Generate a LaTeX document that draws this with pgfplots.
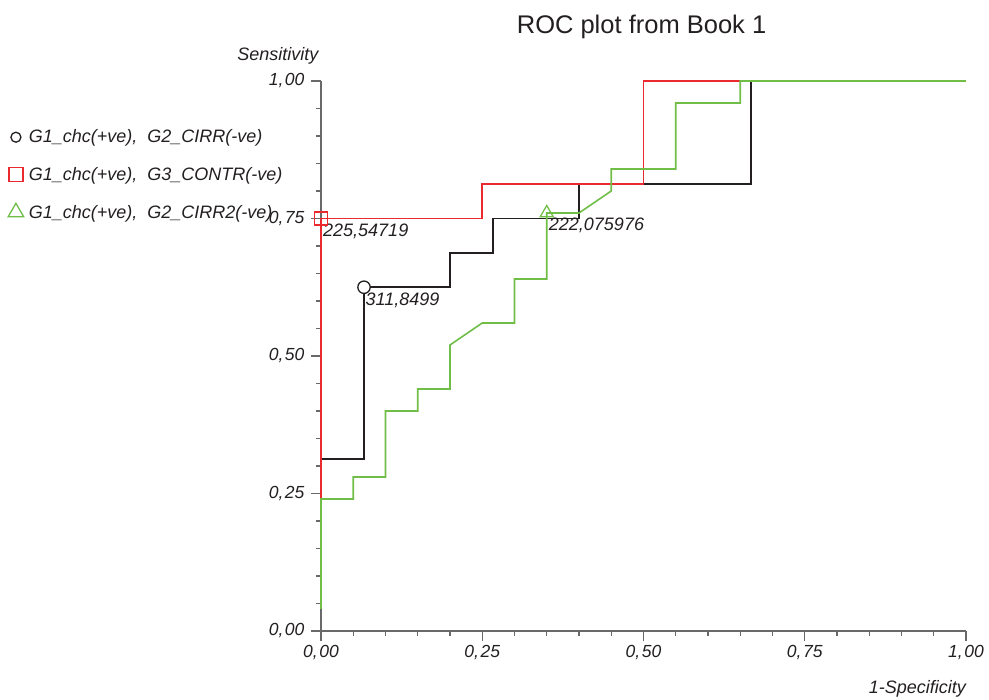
\documentclass[border=0pt]{standalone}
\usepackage{fontspec}
\setmainfont{Liberation Sans}
\usepackage{pgfplots}
\pgfplotsset{compat=1.18}

\definecolor{blk}{RGB}{35,31,32}
\definecolor{rocred}{RGB}{234,42,46}
\definecolor{rocgreen}{RGB}{112,190,72}
\definecolor{axgray}{RGB}{105,105,105}

\begin{document}
\begin{tikzpicture}
\useasboundingbox (-321pt,-69pt) rectangle (668pt,631pt);
\begin{axis}[
    scale only axis,
    width=645pt, height=550pt,
    xmin=0, xmax=1, ymin=0, ymax=1,
    axis lines*=left,
    axis line style={axgray, line width=1.1pt},
    clip=false,
    xtick={0,0.25,0.5,0.75,1},
    ytick={0,0.25,0.5,0.75,1},
    minor x tick num=4,
    minor y tick num=4,
    tick align=outside,
    major tick length=10pt,
    minor tick length=5pt,
    every tick/.style={axgray, line width=1.1pt},
    /pgf/number format/assume math mode=true,
    ticklabel style={font=\itshape\fontsize{17.5}{19}\selectfont, text=blk,
        /pgf/number format/fixed, /pgf/number format/fixed zerofill,
        /pgf/number format/precision=2, /pgf/number format/dec sep={,\kern1.5pt}},
    yticklabel style={xshift=-3pt},
    xticklabel style={yshift=-1pt},
    legend style={at={(axis description cs:-0.495,0.915)}, anchor=north west,
        draw=none, fill=none, font=\itshape\fontsize{18}{21}\selectfont,
        text=blk, row sep=19pt, inner sep=0pt},
    legend cell align=left,
    legend image code/.code={\path[draw=none, fill=none] (0pt,0pt) -- (25pt,0pt);
        \draw[#1] plot[only marks] coordinates {(14pt,0pt)};},
]
% legend images
\addlegendimage{only marks, mark=o, mark size=5pt, blk, line width=1.3pt}
\addlegendimage{only marks, mark=square, mark size=7pt, rocred, line width=1.3pt}
\addlegendimage{only marks, mark=triangle, mark size=9pt, rocgreen, line width=1.3pt}
\legend{{G1\_chc(+ve),\ \ G2\_CIRR(-ve)}, {G1\_chc(+ve),\ \ G3\_CONTR(-ve)}, {G1\_chc(+ve),\ \ G2\_CIRR2(-ve)}}

% G2_CIRR
\addplot[blk, line width=1.6pt, forget plot] coordinates {
    (0,0.0625) (0,0.3125) (0.0667,0.3125) (0.0667,0.625) (0.2,0.625)
    (0.2,0.6875) (0.2667,0.6875) (0.2667,0.75) (0.4,0.75) (0.4,0.8125)
    (0.6667,0.8125) (0.6667,1) (1,1)
};
% G3_CONTR
\addplot[rocred, line width=1.6pt, forget plot] coordinates {
    (0,0.0625) (0,0.75) (0.25,0.75) (0.25,0.8125) (0.5,0.8125) (0.5,1) (1,1)
};
% G2_CIRR2
\addplot[rocgreen, line width=1.6pt, forget plot] coordinates {
    (0,0.04) (0,0.24) (0.05,0.24) (0.05,0.28) (0.1,0.28) (0.1,0.40)
    (0.15,0.40) (0.15,0.44) (0.2,0.44) (0.2,0.52) (0.25,0.56) (0.3,0.56)
    (0.3,0.64) (0.35,0.64) (0.35,0.76) (0.4,0.76) (0.45,0.80) (0.45,0.84)
    (0.55,0.84) (0.55,0.96) (0.65,0.96) (0.65,1) (1,1)
};

% cut-off markers
\addplot[only marks, mark=*, mark size=6.2pt, blk, line width=1.3pt,
    mark options={fill=white}, forget plot] coordinates {(0.0667,0.625)};
\addplot[only marks, mark=square, mark size=6.5pt, rocred, line width=1.3pt,
    forget plot] coordinates {(0,0.75)};
\addplot[only marks, mark=triangle, mark size=7.5pt, rocgreen, line width=1.3pt,
    forget plot] coordinates {(0.35,0.76)};

\node[anchor=base west, xshift=1.5pt, yshift=-18pt, font=\itshape\fontsize{18}{21}\selectfont, text=blk, inner sep=0pt]
    at (axis cs:0.0667,0.625) {311,8499};
\node[anchor=base west, xshift=2pt, yshift=-18pt, font=\itshape\fontsize{18}{21}\selectfont, text=blk, inner sep=0pt]
    at (axis cs:0,0.75) {225,54719};
\node[anchor=base west, xshift=2pt, yshift=-17.5pt, font=\itshape\fontsize{18}{21}\selectfont, text=blk, inner sep=0pt]
    at (axis cs:0.35,0.76) {222,075976};

% titles
\node[anchor=base, font=\fontsize{25.5}{28}\selectfont, text=blk, inner sep=0pt]
    at (axis description cs:0.497,1.087) {ROC plot from Book 1};
\node[anchor=base, font=\itshape\fontsize{18}{21}\selectfont, text=blk, inner sep=0pt]
    at (axis description cs:-0.0667,1.038) {Sensitivity};
\node[anchor=base east, font=\itshape\fontsize{18}{21}\selectfont, text=blk, inner sep=0pt]
    at (axis description cs:1.0,-0.1145) {1-Specificity};
\end{axis}
\end{tikzpicture}
\end{document}
